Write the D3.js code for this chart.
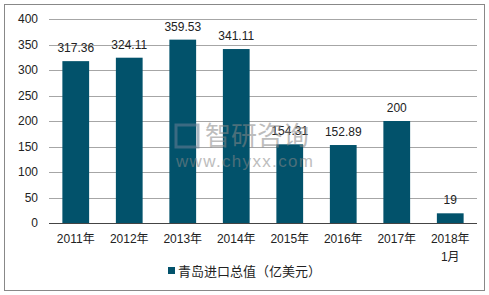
<!DOCTYPE html>
<html>
<head>
<meta charset="utf-8">
<script src="https://cdn.jsdelivr.net/npm/d3@7"></script>
<style>
body { margin: 0; background: #fff; }
text { font-family: "Liberation Sans", Arial, "Noto Sans CJK SC", sans-serif; }
</style>
</head>
<body>
<div id="chart"></div>
<script>
// data
const categories = ['2011年', '2012年', '2013年', '2014年', '2015年', '2016年', '2017年', '2018年\n1月'];
const values = [317.36, 324.11, 359.53, 341.11, 154.31, 152.89, 200, 19];
const yTicks = [0, 50, 100, 150, 200, 250, 300, 350, 400];
const seriesName = '青岛进口总值（亿美元）';

const W = 489, H = 295;
const margin = { top: 19, right: 12, bottom: 72, left: 49 };
const width = W - margin.left - margin.right;
const height = 223 - margin.top;
const barColor = '#02526b';

const svg = d3.select('#chart').append('svg')
    .attr('width', W)
    .attr('height', H);

// outer frame
svg.append('rect')
    .attr('x', 4.5).attr('y', 4.5)
    .attr('width', 480).attr('height', 286)
    .attr('fill', 'none')
    .attr('stroke', '#888')
    .attr('stroke-width', 1);

const g = svg.append('g')
    .attr('transform', 'translate(' + margin.left + ',' + margin.top + ')');

const xScale = d3.scaleBand()
    .domain(categories)
    .range([0, width])
    .paddingInner(0.5)
    .paddingOuter(0.25);

const yScale = d3.scaleLinear()
    .domain([0, 400])
    .range([height, 0]);

// grid lines
g.selectAll('line.grid')
    .data(yTicks.filter(d => d > 0))
    .enter().append('line')
    .attr('class', 'grid')
    .attr('x1', 0).attr('x2', width)
    .attr('y1', d => Math.round(yScale(d)) + 0.5)
    .attr('y2', d => Math.round(yScale(d)) + 0.5)
    .attr('stroke', '#a6a6a6')
    .attr('stroke-width', 1);

// y labels
g.selectAll('text.ytick')
    .data(yTicks)
    .enter().append('text')
    .attr('class', 'ytick')
    .attr('x', -11)
    .attr('y', d => yScale(d))
    .attr('dy', '0.35em')
    .attr('text-anchor', 'end')
    .attr('font-size', 12)
    .attr('fill', '#222')
    .text(d => d);

// bars
g.selectAll('rect.bar')
    .data(values)
    .enter().append('rect')
    .attr('class', 'bar')
    .attr('x', (d, i) => xScale(categories[i]))
    .attr('width', xScale.bandwidth())
    .attr('y', d => yScale(d))
    .attr('height', d => height - yScale(d))
    .attr('fill', barColor);

// baseline
g.append('line')
    .attr('x1', 0).attr('x2', width)
    .attr('y1', height + 0.5).attr('y2', height + 0.5)
    .attr('stroke', '#444')
    .attr('stroke-width', 1);

// value labels
g.selectAll('text.val')
    .data(values)
    .enter().append('text')
    .attr('class', 'val')
    .attr('x', (d, i) => xScale(categories[i]) + xScale.bandwidth() / 2)
    .attr('y', d => yScale(d) - 9)
    .attr('text-anchor', 'middle')
    .attr('font-size', 12)
    .attr('fill', '#222')
    .text(d => d);

// x labels
const xl = g.selectAll('text.xlab')
    .data(categories)
    .enter().append('text')
    .attr('class', 'xlab')
    .attr('text-anchor', 'middle')
    .attr('font-size', 12)
    .attr('fill', '#222')
    .attr('transform', d => 'translate(' + (xScale(d) + xScale.bandwidth() / 2) + ',' + (height + 20) + ')');
xl.selectAll('tspan')
    .data(d => d.split('\n'))
    .enter().append('tspan')
    .attr('x', 0)
    .attr('dy', (d, i) => i === 0 ? 0 : 18)
    .text(d => d);

// legend
svg.append('rect')
    .attr('x', 168).attr('y', 267)
    .attr('width', 7).attr('height', 7)
    .attr('fill', barColor);
svg.append('text')
    .attr('x', 178).attr('y', 275.5)
    .attr('font-size', 13)
    .attr('fill', '#222')
    .text(seriesName);

// watermark
const wm = svg.append('g').attr('opacity', 0.55);
wm.append('rect')
    .attr('x', 176).attr('y', 125)
    .attr('width', 22).attr('height', 22)
    .attr('fill', 'none')
    .attr('stroke', '#6a7f95')
    .attr('stroke-width', 3);
wm.append('text')
    .attr('x', 205).attr('y', 145)
    .attr('font-size', 26)
    .attr('fill', '#888')
    .attr('font-family', 'Noto Sans CJK SC')
    .text('智研咨询');
wm.append('text')
    .attr('x', 176).attr('y', 167)
    .attr('font-size', 17)
    .attr('fill', '#888')
    .attr('textLength', 137)
    .text('www.chyxx.com');
</script>
</body>
</html>
